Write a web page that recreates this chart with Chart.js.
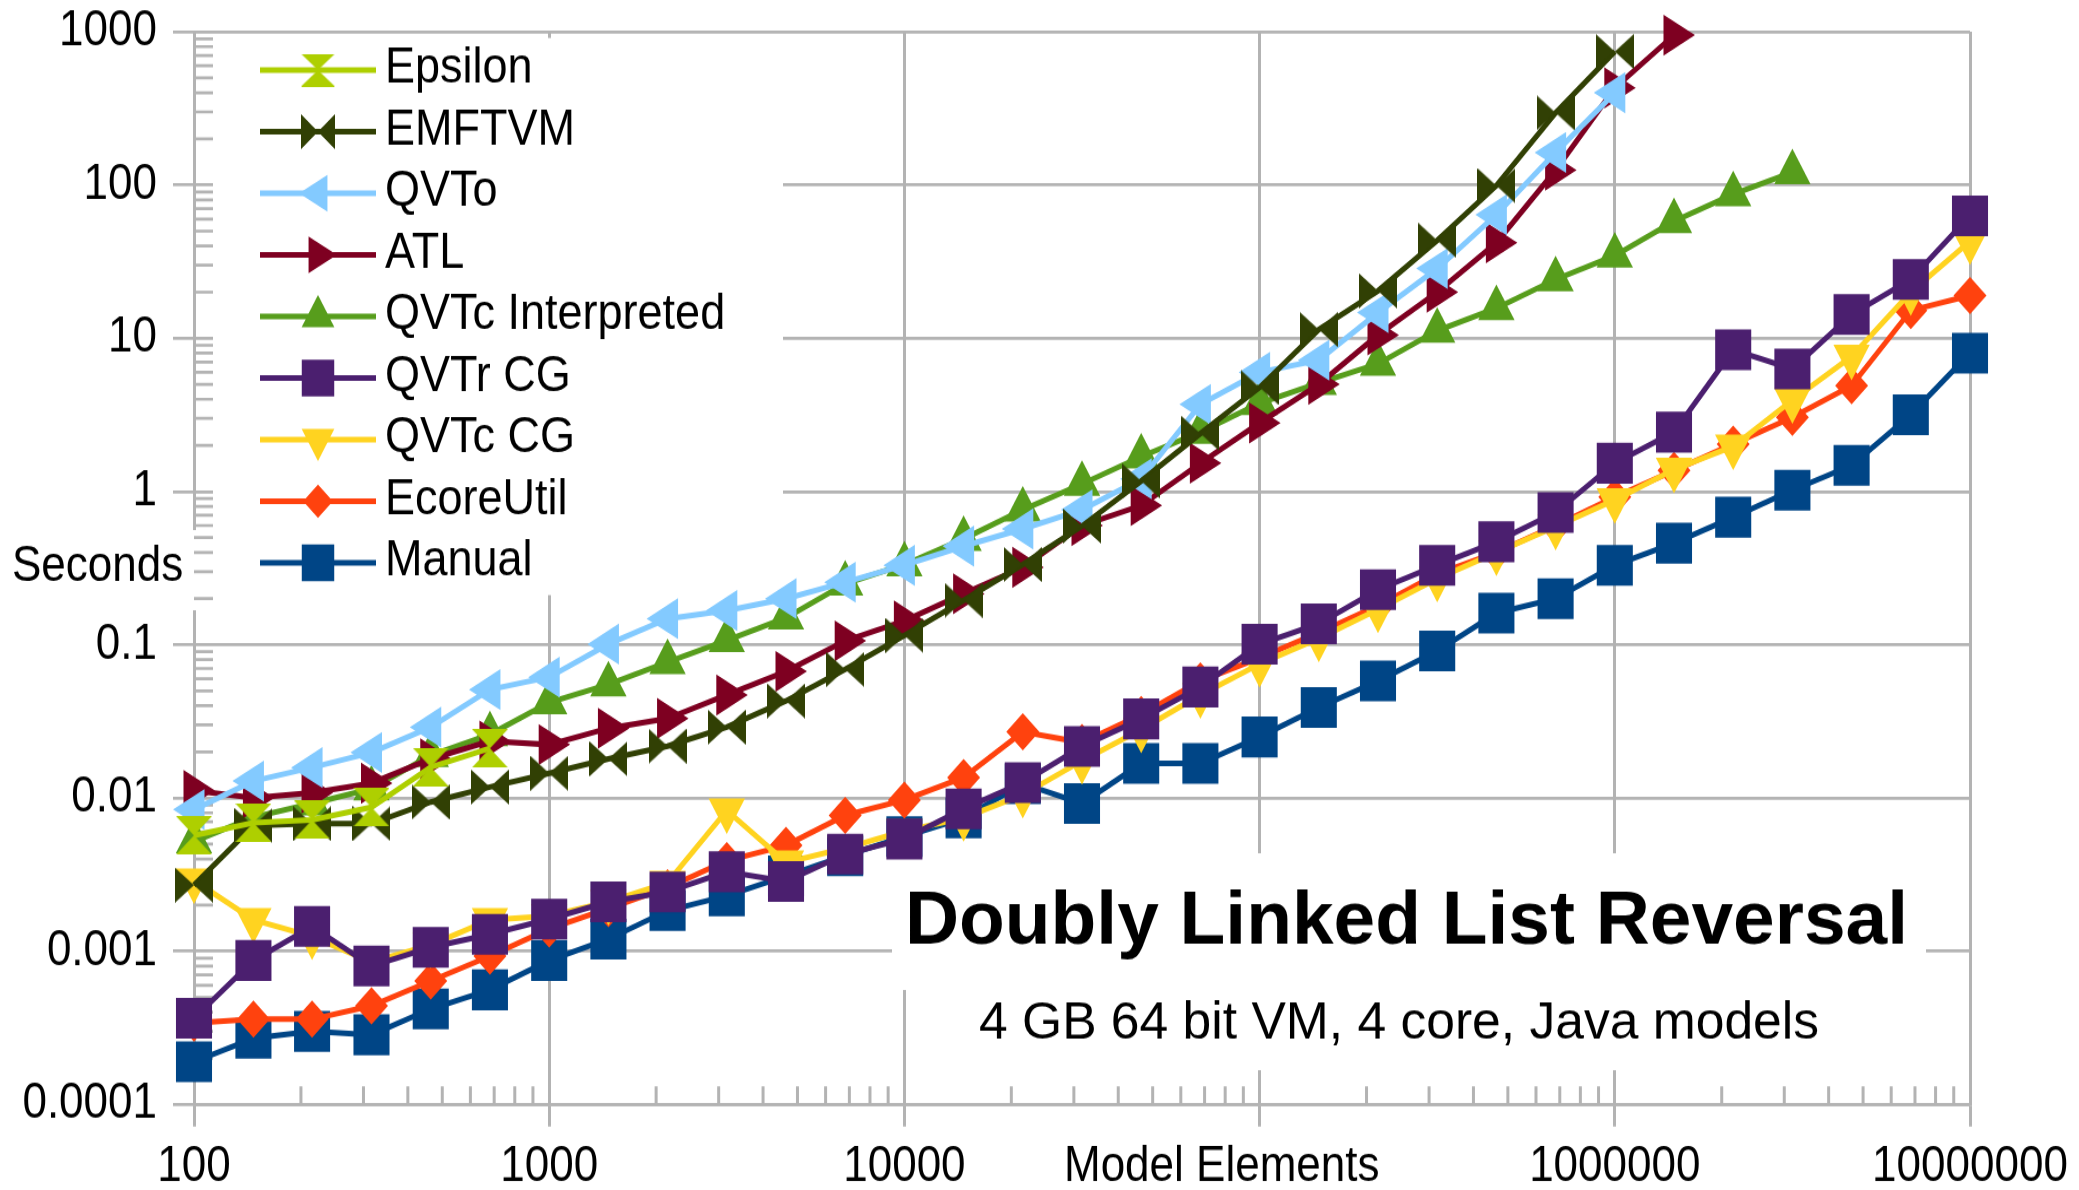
<!DOCTYPE html>
<html>
<head>
<meta charset="utf-8">
<title>Doubly Linked List Reversal</title>
<script src="https://cdn.jsdelivr.net/npm/chart.js"></script>
<style>
  html, body { margin: 0; padding: 0; background: #fff; overflow: hidden; }
</style>
</head>
<body>
<!-- the source picture is stretched vertically, so the canvas is drawn at 1053 px and shown at 1190 px -->
<canvas id="chart" width="2079" height="1053" style="width:2079px;height:1190px;display:block"></canvas>
<script>
// model sizes (x axis), one point every 1/6 decade
const elements = [100, 147, 215, 316, 464, 681, 1000, 1468, 2154, 3162, 4642, 6813,
  10000, 14678, 21544, 31623, 46416, 68129, 100000, 146780, 215443, 316228, 464159,
  681292, 1000000, 1467799, 2154435, 3162278, 4641589, 6812921, 10000000];

// seconds per series
const epsilon = [0.0057, 0.0069, 0.0072, 0.0087, 0.0159, 0.0211];
const emftvm = [0.0027, 0.0066, 0.0068, 0.0068, 0.0094, 0.0118, 0.0145, 0.018, 0.0218, 0.029,
  0.043, 0.069, 0.115, 0.195, 0.334, 0.595, 1.17, 2.39, 4.78, 11.4, 20.4, 43.5, 99, 296, 743];
const qvto = [0.0084, 0.0129, 0.0158, 0.0198, 0.029, 0.051, 0.0615, 0.101, 0.148, 0.167,
  0.20, 0.256, 0.33, 0.44, 0.57, 0.76, 1.21, 3.7, 6.0, 7.2, 14.7, 28.5, 64, 163, 400];
const atl = [0.0112, 0.0100, 0.0108, 0.0125, 0.018, 0.0235, 0.0223, 0.0285, 0.033, 0.047,
  0.067, 0.106, 0.143, 0.215, 0.32, 0.6, 0.81, 1.53, 2.8, 5.0, 10.5, 20, 42, 125, 430, 950];
const qvtcInterpreted = [0.0052, 0.0075, 0.0092, 0.0115, 0.019, 0.026, 0.042, 0.055, 0.077,
  0.107, 0.15, 0.25, 0.334, 0.49, 0.76, 1.12, 1.69, 2.44, 3.77, 5.1, 6.8, 11.2, 15.7, 24.2,
  34.6, 58, 87, 121];
const qvtrCG = [0.000365, 0.00087, 0.00145, 0.0008, 0.00106, 0.00129, 0.00162, 0.0021,
  0.00244, 0.0033, 0.00285, 0.0043, 0.0054, 0.0085, 0.0126, 0.0217, 0.0328, 0.053, 0.1007,
  0.137, 0.229, 0.33, 0.47, 0.73, 1.53, 2.44, 8.4, 6.3, 14.3, 24.2, 63];
const qvtcCG = [0.0029, 0.0016, 0.00125, 0.00085, 0.0011, 0.0016, 0.0017, 0.0021, 0.0028,
  0.0083, 0.0038, 0.0047, 0.0061, 0.0074, 0.0105, 0.0175, 0.028, 0.047, 0.075, 0.11, 0.17,
  0.27, 0.40, 0.59, 0.88, 1.39, 1.97, 3.95, 7.6, 20, 43];
const ecoreUtil = [0.00034, 0.00036, 0.00036, 0.00044, 0.00064, 0.00093, 0.0014, 0.0019,
  0.0026, 0.0039, 0.0049, 0.0077, 0.0097, 0.0136, 0.027, 0.023, 0.035, 0.058, 0.082, 0.12,
  0.18, 0.29, 0.40, 0.60, 0.92, 1.37, 2.04, 3.05, 4.9, 15.2, 19];
const manual = [0.00019, 0.00027, 0.0003, 0.000285, 0.00042, 0.00056, 0.00087, 0.0012,
  0.00184, 0.0023, 0.0031, 0.0042, 0.0056, 0.0074, 0.0124, 0.0092, 0.0168, 0.0168, 0.025,
  0.039, 0.058, 0.091, 0.161, 0.20, 0.33, 0.46, 0.68, 1.02, 1.48, 3.17, 8.0];

const seriesNames = ["Epsilon", "EMFTVM", "QVTo", "ATL", "QVTc Interpreted", "QVTr CG",
  "QVTc CG", "EcoreUtil", "Manual"];
const seriesValues = [epsilon, emftvm, qvto, atl, qvtcInterpreted, qvtrCG, qvtcCG, ecoreUtil, manual];

const xTickValues = [100, 1000, 10000, 100000, 1000000, 10000000];
const xTickLabels = ["100", "1000", "10000", "", "1000000", "10000000"];
const yTickValues = [0.0001, 0.001, 0.01, 0.1, 1, 10, 100, 1000];
const yTickLabels = ["0.0001", "0.001", "0.01", "0.1", "1", "10", "100", "1000"];

const FONT = "'Liberation Sans', Arial, Helvetica, sans-serif";
const GRID = "#b3b3b3";
const colors = ["#aecf00", "#314004", "#83caff", "#7e0021", "#579d1c", "#4b1f6f",
  "#ffd320", "#ff420e", "#004586"];

// hourglass / bowtie symbols that Chart.js has no built-in style for
function makeHourglass(w, h, color, upright) {
  const c = document.createElement("canvas");
  c.width = w;
  c.height = h;
  const g = c.getContext("2d");
  g.fillStyle = color;
  g.beginPath();
  if (upright) {
    g.moveTo(0, 0); g.lineTo(w, 0); g.lineTo(0, h); g.lineTo(w, h);
  } else {
    g.moveTo(0, 0); g.lineTo(0, h); g.lineTo(w, 0); g.lineTo(w, h);
  }
  g.closePath();
  g.fill();
  return c;
}

const markers = [
  { style: makeHourglass(36, 34, colors[0], true), legend: makeHourglass(34, 29, colors[0], true), radius: 18, rotation: 0 },
  { style: makeHourglass(38, 31, colors[1], false), legend: makeHourglass(34, 31, colors[1], false), radius: 18, rotation: 0 },
  { style: "triangle", radius: 21, rotation: 270 },
  { style: "triangle", radius: 21, rotation: 90 },
  { style: "triangle", radius: 21, rotation: 0 },
  { style: "rect", radius: 25.5, rotation: 0 },
  { style: "triangle", radius: 21, rotation: 180 },
  { style: "rectRot", radius: 16.5, rotation: 0 },
  { style: "rect", radius: 25.5, rotation: 0 }
];

const datasets = seriesNames.map((name, i) => ({
  label: name,
  data: seriesValues[i].map((v, k) => ({ x: elements[k], y: v })),
  borderColor: colors[i],
  backgroundColor: colors[i],
  borderWidth: 5,
  pointStyle: markers[i].style,
  pointRadius: markers[i].radius,
  pointHoverRadius: markers[i].radius,
  pointRotation: markers[i].rotation,
  pointBorderWidth: 0,
  pointBackgroundColor: colors[i],
  tension: 0,
  fill: false,
  clip: false
}));

function fitText(ctx, text, left, baseline, width, font) {
  ctx.font = font;
  const w = ctx.measureText(text).width;
  ctx.save();
  ctx.translate(left, baseline);
  ctx.scale(width / w, 1);
  ctx.textAlign = "left";
  ctx.textBaseline = "alphabetic";
  ctx.fillText(text, 0, 0);
  ctx.restore();
}

const overlay = {
  id: "overlay",
  beforeDatasetsDraw(chart) {
    const ctx = chart.ctx;
    const area = chart.chartArea;
    const xs = chart.scales.x;
    const ys = chart.scales.y;
    ctx.save();
    // white boxes behind legend, title and axis title
    ctx.fillStyle = "#fff";
    ctx.fillRect(213, 33.6, 570, 493);
    ctx.fillRect(892, 755, 1034, 121);
    ctx.fillRect(966, 876, 866, 71);
    ctx.fillRect(0, 469, 196.5, 71);

    // minor ticks, inside the plot
    ctx.strokeStyle = GRID;
    ctx.lineWidth = 2.7;
    ctx.beginPath();
    for (let d = 0.0001; d < 999; d *= 10) {
      for (let m = 2; m <= 9; m++) {
        const py = ys.getPixelForValue(d * m);
        ctx.moveTo(area.left, py);
        ctx.lineTo(area.left + 19, py);
      }
    }
    ctx.stroke();
    ctx.lineWidth = 3;
    ctx.beginPath();
    for (let d = 100; d < 9999999; d *= 10) {
      for (let m = 2; m <= 9; m++) {
        const px = xs.getPixelForValue(d * m);
        ctx.moveTo(px, area.bottom);
        ctx.lineTo(px, area.bottom - 16);
      }
    }
    ctx.stroke();
    ctx.restore();
  },
  afterDatasetsDraw(chart) {
    const ctx = chart.ctx;
    const area = chart.chartArea;
    ctx.save();
    ctx.fillStyle = "#000";

    // legend
    seriesNames.forEach((name, i) => {
      const y = 62 + i * 54.5;
      ctx.strokeStyle = colors[i];
      ctx.lineWidth = 5;
      ctx.beginPath();
      ctx.moveTo(260, y);
      ctx.lineTo(376, y);
      ctx.stroke();
      ctx.fillStyle = colors[i];
      const m = markers[i];
      if (Chart.helpers && Chart.helpers.drawPoint) {
        Chart.helpers.drawPoint(ctx, {
          pointStyle: m.legend || m.style,
          rotation: m.rotation,
          radius: m.radius * 0.9,
          borderWidth: 0
        }, 318, y);
      }
      ctx.fillStyle = "#000";
      ctx.font = "45px " + FONT;
      ctx.textAlign = "left";
      ctx.textBaseline = "middle";
      ctx.fillText(name, 385, y - 1);
    });

    // axis titles
    ctx.font = "44px " + FONT;
    ctx.textAlign = "left";
    ctx.textBaseline = "middle";
    ctx.fillText("Seconds", 12, 502);
    ctx.fillText("Model Elements", 1064, area.bottom + 55.2);

    // chart title and subtitle
    fitText(ctx, "Doubly Linked List Reversal", 905, 835, 1003, "bold 67px " + FONT);
    fitText(ctx, "4 GB 64 bit VM, 4 core, Java models", 979, 918.6, 840, "47px " + FONT);
    ctx.restore();
  }
};

new Chart(document.getElementById("chart"), {
  type: "line",
  data: { datasets: datasets },
  plugins: [overlay],
  options: {
    responsive: false,
    maintainAspectRatio: false,
    animation: false,
    devicePixelRatio: 1,
    layout: { padding: { top: 28.1, right: 109, bottom: 0, left: 0 } },
    plugins: {
      legend: { display: false },
      tooltip: { enabled: false }
    },
    scales: {
      x: {
        type: "logarithmic",
        min: 100,
        max: 10000000,
        afterBuildTicks: (scale) => { scale.ticks = xTickValues.map(v => ({ value: v })); },
        afterFit: (scale) => { scale.height = 75.7; },
        grid: { color: GRID, lineWidth: 3, tickLength: 19.5 },
        border: { color: GRID, width: 2.7 },
        ticks: {
          autoSkip: false,
          maxRotation: 0,
          padding: 9.3,
          color: "#000",
          font: { family: FONT, size: 44 },
          callback: (value, index) => xTickLabels[index]
        }
      },
      y: {
        type: "logarithmic",
        min: 0.0001,
        max: 1000,
        afterBuildTicks: (scale) => { scale.ticks = yTickValues.map(v => ({ value: v })); },
        afterFit: (scale) => { scale.width = 194; },
        grid: { color: GRID, lineWidth: 2.7, tickLength: 21 },
        border: { color: GRID, width: 3 },
        ticks: {
          autoSkip: false,
          padding: 16,
          color: "#000",
          // small line height keeps the label padding from pushing the plot top down
          font: { family: FONT, size: 44, lineHeight: 0.5 },
          callback: (value, index) => yTickLabels[index]
        }
      }
    }
  }
});
</script>
</body>
</html>
